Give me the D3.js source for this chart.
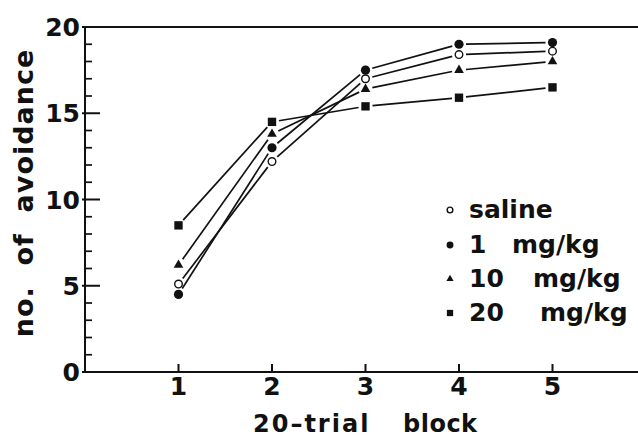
<!DOCTYPE html>
<html>
<head>
<meta charset="utf-8">
<script src="https://cdn.jsdelivr.net/npm/d3@7"></script>
<style>
  html, body { margin: 0; padding: 0; background: #fff; }
  svg { display: block; }
  text { font-family: "DejaVu Sans", "Liberation Sans", sans-serif; font-weight: bold; fill: #111; }
</style>
</head>
<body>
<svg id="chart" width="638" height="439"></svg>
<script>
// ---- data ----
const blocks = [1, 2, 3, 4, 5];
const saline = [5.1, 12.2, 17.0, 18.4, 18.6];
const mg1 = [4.5, 13.0, 17.5, 19.0, 19.1];
const mg10 = [6.2, 13.8, 16.4, 17.5, 18.0];
const mg20 = [8.5, 14.5, 15.4, 15.9, 16.5];
const yTicks = [0, 5, 10, 15, 20];
const yMinorTicks = d3.range(0, 21, 1);
const xTicks = [1, 2, 3, 4, 5];
const legendLabels = [["saline", ""], ["1", "mg/kg"], ["10", "mg/kg"], ["20", "mg/kg"]];
const xTitleParts = ["20\u2013trial", "block"];
const yTitle = "no.  of  avoidance";

const series = [
  { name: "saline", values: saline, shape: "open" },
  { name: "1 mg/kg", values: mg1, shape: "circle" },
  { name: "10 mg/kg", values: mg10, shape: "triangle" },
  { name: "20 mg/kg", values: mg20, shape: "square" }
];

const svg = d3.select("#chart");
const ink = "#111";

const x = d3.scaleLinear().domain([0, 6]).range([85, 646]);
const y = d3.scaleLinear().domain([0, 20]).range([372, 27]);

// frame: top line & bottom axis extend to right edge
svg.append("line").attr("x1", x(0)).attr("x2", 638).attr("y1", y(20)).attr("y2", y(20))
  .attr("stroke", ink).attr("stroke-width", 2);
svg.append("line").attr("x1", x(0)).attr("x2", 638).attr("y1", y(0)).attr("y2", y(0))
  .attr("stroke", ink).attr("stroke-width", 2);
svg.append("line").attr("x1", x(0)).attr("x2", x(0)).attr("y1", y(0)).attr("y2", y(20))
  .attr("stroke", ink).attr("stroke-width", 2);

// y minor ticks (inward)
svg.append("g").selectAll("line").data(yMinorTicks.filter(v => yTicks.indexOf(v) < 0)).join("line")
  .attr("x1", x(0)).attr("x2", x(0) + 7)
  .attr("y1", d => y(d)).attr("y2", d => y(d))
  .attr("stroke", ink).attr("stroke-width", 1.7);
// y major ticks
svg.append("g").selectAll("line").data(yTicks).join("line")
  .attr("x1", x(0) - 3).attr("x2", x(0) + 15)
  .attr("y1", d => y(d)).attr("y2", d => y(d))
  .attr("stroke", ink).attr("stroke-width", 2);
svg.append("g").selectAll("text").data(yTicks).join("text")
  .attr("x", 80).attr("y", d => y(d) + 9)
  .attr("text-anchor", "end").attr("font-size", 25)
  .text(d => d);

// x ticks (upward)
svg.append("g").selectAll("line").data(xTicks).join("line")
  .attr("x1", d => x(d)).attr("x2", d => x(d))
  .attr("y1", y(0)).attr("y2", y(0) - 8)
  .attr("stroke", ink).attr("stroke-width", 2);
svg.append("g").selectAll("text").data(xTicks).join("text")
  .attr("x", d => x(d)).attr("y", 395)
  .attr("text-anchor", "middle").attr("font-size", 25)
  .text(d => d);

// axis titles
svg.append("text").attr("x", 253).attr("y", 432)
  .attr("font-size", 24).attr("letter-spacing", 2).text(xTitleParts[0]);
svg.append("text").attr("x", 403).attr("y", 432)
  .attr("font-size", 24).attr("letter-spacing", 0.5).text(xTitleParts[1]);
svg.append("text").attr("transform", "translate(33,193) rotate(-90)")
  .attr("text-anchor", "middle").attr("font-size", 27).style("white-space", "pre")
  .attr("letter-spacing", 1).text(yTitle);

// lines with gaps near markers
const gap = 7;
series.forEach(s => {
  const pts = blocks.map((b, i) => [x(b), y(s.values[i])]);
  const segs = [];
  for (let i = 0; i < pts.length - 1; i++) {
    const [x1, y1] = pts[i], [x2, y2] = pts[i + 1];
    const len = Math.hypot(x2 - x1, y2 - y1);
    const ux = (x2 - x1) / len, uy = (y2 - y1) / len;
    segs.push([x1 + ux * gap, y1 + uy * gap, x2 - ux * gap, y2 - uy * gap]);
  }
  svg.append("g").selectAll("line").data(segs).join("line")
    .attr("x1", d => d[0]).attr("y1", d => d[1]).attr("x2", d => d[2]).attr("y2", d => d[3])
    .attr("stroke", ink).attr("stroke-width", 1.7);
});

function drawMarker(g, shape, cx, cy, scale) {
  if (shape === "open") {
    g.append("circle").attr("cx", cx).attr("cy", cy).attr("r", 3.8 * scale)
      .attr("fill", "#fff").attr("stroke", ink).attr("stroke-width", 1.4);
  } else if (shape === "circle") {
    g.append("circle").attr("cx", cx).attr("cy", cy).attr("r", 4.6 * scale).attr("fill", ink);
  } else if (shape === "triangle") {
    g.append("path").attr("d", d3.symbol(d3.symbolTriangle, 40 * scale * scale)())
      .attr("transform", `translate(${cx},${cy})`).attr("fill", ink);
  } else {
    g.append("path").attr("d", d3.symbol(d3.symbolSquare, 70 * scale * scale)())
      .attr("transform", `translate(${cx},${cy})`).attr("fill", ink);
  }
}

const mg = svg.append("g");
series.forEach(s => {
  blocks.forEach((b, i) => drawMarker(mg, s.shape, x(b), y(s.values[i]), 1));
});

// legend
const legY = [210, 245, 279, 313];
const legNumX = 469;
const legUnitX = [0, 512, 533, 540];
const lg = svg.append("g");
series.forEach((s, i) => {
  drawMarker(lg, s.shape, 450, legY[i], 0.75);
  lg.append("text").attr("x", legNumX).attr("y", legY[i] + 8).attr("font-size", 25)
    .text(legendLabels[i][0]);
  if (legendLabels[i][1]) {
    lg.append("text").attr("x", legUnitX[i]).attr("y", legY[i] + 8).attr("font-size", 25)
      .text(legendLabels[i][1]);
  }
});
</script>
</body>
</html>
